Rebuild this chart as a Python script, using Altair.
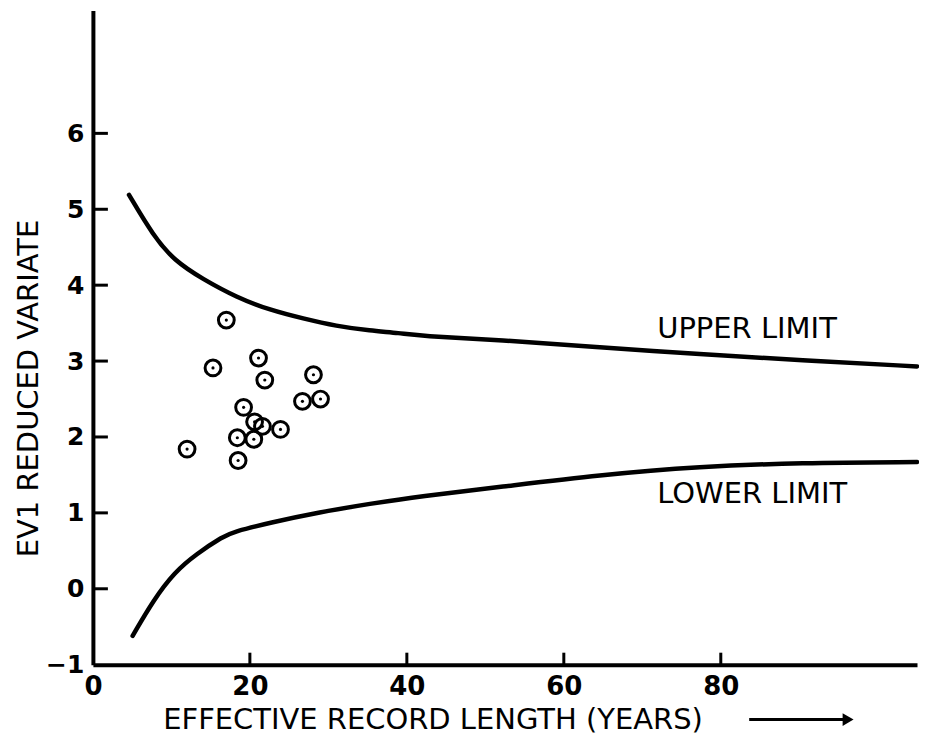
import altair as alt
import pandas as pd

# ---- data ----
upper_x = [4.6, 7.7, 10.4, 14.0, 18.3, 22.6, 26.8, 31.0, 35.3, 39.1, 41.7, 51.8, 64.6, 77.3, 90.1, 105.0]
upper_y = [5.19, 4.65, 4.32, 4.08, 3.84, 3.67, 3.56, 3.46, 3.40, 3.37, 3.33, 3.28, 3.18, 3.09, 3.01, 2.93]

lower_x = [5.06, 7.7, 10.4, 13.2, 16.6, 17.9, 22.5, 28.9, 35.3, 41.7, 51.8, 64.6, 77.3, 90.1, 105.0]
lower_y = [-0.62, -0.15, 0.22, 0.46, 0.69, 0.75, 0.87, 1.01, 1.12, 1.22, 1.34, 1.50, 1.61, 1.66, 1.67]

pts_x = [17.0, 15.3, 21.1, 21.9, 28.1, 26.7, 29.0, 19.2, 20.6, 21.6, 23.9, 18.4, 20.5, 12.0, 18.5]
pts_y = [3.54, 2.91, 3.04, 2.75, 2.82, 2.47, 2.50, 2.39, 2.20, 2.14, 2.10, 1.99, 1.97, 1.84, 1.69]

x_ticks = [0, 20, 40, 60, 80]
y_ticks = [-1, 0, 1, 2, 3, 4, 5, 6]
inner_x_ticks = [20, 40, 60, 80]
inner_y_ticks = [0, 1, 2, 3, 4, 5, 6]

label_text = ["UPPER LIMIT", "LOWER LIMIT"]
label_x = [71.9, 71.9]
label_y = [3.42, 1.25]

x_title = "EFFECTIVE RECORD LENGTH (YEARS)"
y_title = "EV1 REDUCED VARIATE"

# ---- tables ----
curves = pd.DataFrame(
    {"x": upper_x + lower_x,
     "y": upper_y + lower_y,
     "series": ["upper"] * len(upper_x) + ["lower"] * len(lower_x)}
)
points = pd.DataFrame({"x": pts_x, "y": pts_y})
labels = pd.DataFrame({"x": label_x, "y": label_y, "text": label_text})
xt = pd.DataFrame({"x": inner_x_ticks})
yt = pd.DataFrame({"y": inner_y_ticks})

W, H = 825, 655
FONT = "DejaVu Sans"

xs = alt.Scale(domain=[0, 105], nice=False, zero=False)
ys = alt.Scale(domain=[-1, 7.62], nice=False, zero=False)

x_axis = alt.Axis(
    values=x_ticks, title=x_title, grid=False, ticks=False,
    domainColor="black", domainWidth=4,
    labelFont=FONT, labelFontWeight="bold", labelFontSize=26, labelColor="black",
    labelPadding=9, labelFlush=False,
    titleFont=FONT, titleFontWeight="normal", titleFontSize=29, titleColor="black",
    titleX=340, titleY=55, titleAlign="center", titleBaseline="middle",
)
y_axis = alt.Axis(
    values=y_ticks, title=y_title, grid=False, ticks=False,
    domainColor="black", domainWidth=4,
    labelFont=FONT, labelFontWeight="bold", labelFontSize=25, labelColor="black",
    labelPadding=9, labelFlush=False,
    titleFont=FONT, titleFontWeight="normal", titleFontSize=29, titleColor="black",
    titleX=-64, titleY=378, titleAlign="center", titleBaseline="middle",
)

X = alt.X("x:Q", scale=xs, axis=x_axis)
Y = alt.Y("y:Q", scale=ys, axis=y_axis)

lines = alt.Chart(curves).mark_line(
    color="black", strokeWidth=4.5, interpolate="basis", strokeCap="round"
).encode(x=X, y=Y, detail="series:N")

rings = alt.Chart(points).mark_point(
    shape="circle", size=250, color="black", strokeWidth=3, filled=False, opacity=1
).encode(x=X, y=Y)

dots = alt.Chart(points).mark_point(
    shape="circle", size=10, color="black", filled=True, opacity=1
).encode(x=X, y=Y)

texts = alt.Chart(labels).mark_text(
    font=FONT, fontSize=29, align="left", baseline="middle", color="black"
).encode(x=X, y=Y, text="text:N")

ytick_rules = alt.Chart(yt).mark_rule(color="black", strokeWidth=3).encode(
    y=Y, x=alt.value(0), x2=alt.value(15)
)
xtick_rules = alt.Chart(xt).mark_rule(color="black", strokeWidth=3).encode(
    x=X, y=alt.value(H), y2=alt.value(H - 12)
)

arrow_line = alt.Chart(pd.DataFrame({"a": [0]})).mark_rule(color="black", strokeWidth=3).encode(
    x=alt.value(657), x2=alt.value(752), y=alt.value(H + 55)
)
arrow_head = alt.Chart(pd.DataFrame({"a": [0]})).mark_point(
    shape="triangle-right", size=160, color="black", filled=True, opacity=1
).encode(x=alt.value(756), y=alt.value(H + 55))

chart = alt.layer(
    lines, rings, dots, texts, ytick_rules, xtick_rules, arrow_line, arrow_head
).properties(
    width=W, height=H,
    autosize=alt.AutoSizeParams(type="none"),
    padding={"left": 85, "top": 2, "right": 2, "bottom": 74},
    background="white",
).configure_view(stroke=None)

chart.save("out.html", embed_options={"renderer": "svg", "actions": False})
